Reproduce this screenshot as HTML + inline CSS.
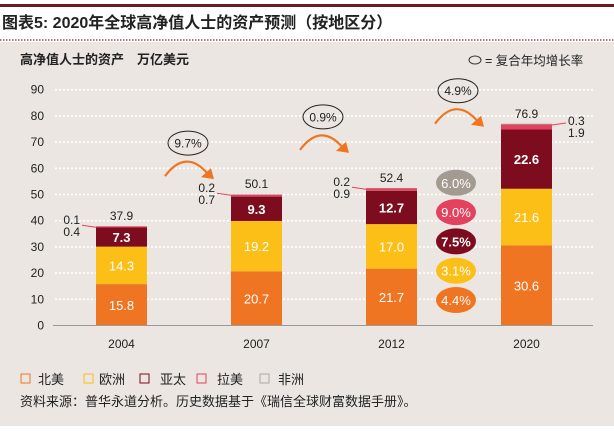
<!DOCTYPE html>
<html><head><meta charset="utf-8"><style>
body{margin:0;width:614px;height:426px;overflow:hidden;background:#fff;font-family:"Liberation Sans","Noto Sans CJK SC",sans-serif}
</style></head><body>
<svg width="614" height="426" xmlns="http://www.w3.org/2000/svg" font-family="Liberation Sans, Noto Sans CJK SC, sans-serif">
<rect x="0" y="0" width="614" height="426" fill="#fff"/>
<rect x="0" y="4" width="614" height="3" fill="#6b1a2a"/>
<text x="2" y="28" font-size="16" font-weight="bold" fill="#222">图表5: 2020年全球高净值人士的资产预测（按地区分）</text>
<line x1="0" y1="40" x2="614" y2="40" stroke="#8a2a3a" stroke-dasharray="1.5,1.5" stroke-width="1.2"/>
<rect x="0" y="42" width="614" height="384" fill="#ebe6e1"/>
<text x="20" y="64" font-size="13" font-weight="bold" fill="#222">高净值人士的资产　万亿美元</text>
<ellipse cx="475" cy="60" rx="6" ry="4" fill="none" stroke="#333"/>
<text x="485" y="65" font-size="12.5" fill="#222">= 复合年均增长率</text>
<g id="grid"></g><g id="bars"></g><g id="ann"></g>
<line x1="53" y1="325.5" x2="593" y2="325.5" stroke="#999"/>
<g font-size="13" fill="#222">
<rect x="21" y="374" width="9" height="9" fill="none" stroke="#f07522"/><text x="38" y="384">北美</text>
<rect x="84" y="374" width="9" height="9" fill="none" stroke="#fbbf18"/><text x="99" y="384">欧洲</text>
<rect x="140" y="374" width="9" height="9" fill="none" stroke="#7d0c1e"/><text x="160" y="384">亚太</text>
<rect x="197" y="374" width="9" height="9" fill="none" stroke="#e2425e"/><text x="217" y="384">拉美</text>
<rect x="260" y="374" width="9" height="9" fill="none" stroke="#b0a8a0"/><text x="278" y="384">非洲</text>
</g>
<text x="20" y="406" font-size="13" fill="#222">资料来源：普华永道分析。历史数据基于《瑞信全球财富数据手册》。</text>
</svg>
<script>
const years=["2004","2007","2012","2020"];
const northAmerica=[15.8,20.7,21.7,30.6];
const europe=[14.3,19.2,17.0,21.6];
const asiaPacific=[7.3,9.3,12.7,22.6];
const latinAmerica=[0.4,0.7,0.9,1.9];
const africa=[0.1,0.2,0.2,0.3];
const totals=[37.9,50.1,52.4,76.9];
const yTicks=[0,10,20,30,40,50,60,70,80,90];
const cagrPeriods=["9.7%","0.9%","4.9%"];
const regionCagr=["4.4%","3.1%","7.5%","9.0%","6.0%"];
const NS="http://www.w3.org/2000/svg";
const y0=325.5,scale=2.62;
const Y=v=>y0-v*scale;
const X=i=>96+i*135;const bw=51;
function mk(t,a,p,txt){const e=document.createElementNS(NS,t);for(const k in a)e.setAttribute(k,a[k]);if(txt!==undefined)e.textContent=txt;p.appendChild(e);return e;}
const grid=document.getElementById('grid'),bars=document.getElementById('bars'),ann=document.getElementById('ann');
yTicks.forEach(t=>{
 if(t>0){const l=mk('line',{x1:55,x2:593,y1:Y(t),y2:Y(t),stroke:'#fff','stroke-width':1.6,'stroke-dasharray':'2,2'},grid);
 
 }
 const tx=mk('text',{x:44,y:Y(t)+4,'font-size':12,fill:'#222','text-anchor':'end'},grid,String(t));
 
 
});
const series=[[northAmerica,'#f07522','north-america'],[europe,'#fbbf18','europe'],[asiaPacific,'#7d0c1e','asia-pacific'],[latinAmerica,'#e2425e','latin-america'],[africa,'#a39a92','africa']];
years.forEach((yr,i)=>{
 let acc=0;const x=X(i);
 series.forEach(([arr,col,nm],s)=>{
  const v=arr[i];
  const r=mk('rect',{x:x,width:bw,y:Y(acc+v),height:v*scale,fill:col},bars);
  
  
  if(s<3){const t=mk('text',{x:x+bw/2,y:Y(acc+v/2)+5,'font-size':13,fill:'#fff','text-anchor':'middle','font-weight':s==2?'bold':'normal'},bars,v.toFixed(1));
   
   }
  acc+=v;
 });
 const tt=mk('text',{x:x+bw/2,y:Y(totals[i])-6,'font-size':12,fill:'#222','text-anchor':'middle'},bars,totals[i].toFixed(1));
 
 
 const xl=mk('text',{x:x+bw/2,y:348,'font-size':12,fill:'#222','text-anchor':'middle'},bars,yr);
 
 
 const top=Y(totals[i]);
 if(i<3){
  mk('line',{x1:x-14,y1:top-1,x2:x,y2:top+1,stroke:'#e2425e'},ann);
  mk('text',{x:x-16,y:top-2,'font-size':12,fill:'#222','text-anchor':'end'},ann,africa[i].toFixed(1));
  mk('text',{x:x-16,y:top+10,'font-size':12,fill:'#222','text-anchor':'end'},ann,latinAmerica[i].toFixed(1));
 } else {
  mk('line',{x1:x+bw,y1:top+1,x2:x+bw+14,y2:top-1,stroke:'#e2425e'},ann);
  mk('text',{x:x+bw+16,y:top+1,'font-size':12,fill:'#222'},ann,africa[i].toFixed(1));
  mk('text',{x:x+bw+16,y:top+13,'font-size':12,fill:'#222'},ann,latinAmerica[i].toFixed(1));
 }
});
cagrPeriods.forEach((c,i)=>{
 const cx=(X(i)+bw+X(i+1))/2-1;const cy=Y(70+10*i)+1;
 const g=mk('g',{},ann);
 
 
 mk('ellipse',{cx:cx,cy:cy,rx:20,ry:12,fill:'none',stroke:'#222'},g);
 mk('text',{x:cx,y:cy+4.5,'font-size':12,fill:'#222','text-anchor':'middle'},g,c);
 const ay=cy+33;
 mk('path',{d:`M${cx-23} ${ay} Q${cx-2} ${ay-28} ${cx+20} ${ay-2}`,fill:'none',stroke:'#f07522','stroke-width':2.2},g);
 mk('path',{d:`M${cx+26} ${ay+3} L${cx+13} ${ay+1} L${cx+23} ${ay-8} Z`,fill:'#f07522'},g);
});
const bcol=['#f07522','#fbbf18','#7d0c1e','#e2425e','#a39a92'];
regionCagr.forEach((c,s)=>{
 const cy=300-s*29.3;
 const g=mk('g',{},ann);
 
 
 mk('ellipse',{cx:456,cy:cy,rx:20,ry:13,fill:bcol[s]},g);
 mk('text',{x:456,y:cy+5,'font-size':13,fill:'#fff','text-anchor':'middle','font-weight':s==2?'bold':'normal'},g,c);
});
</script>
</body></html>
